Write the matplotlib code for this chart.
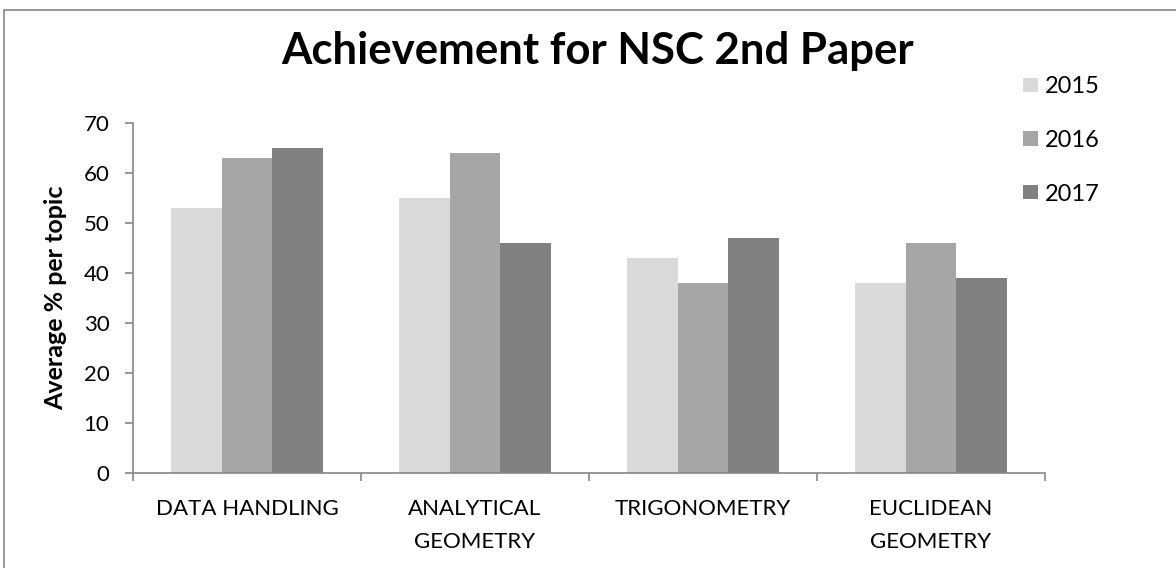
import matplotlib
matplotlib.use("Agg")
import matplotlib.pyplot as plt
from matplotlib.patches import Rectangle
from matplotlib.ticker import FixedLocator, NullFormatter
import numpy as np

categories = ["DATA HANDLING", "ANALYTICAL\nGEOMETRY", "TRIGONOMETRY", "EUCLIDEAN\nGEOMETRY"]
series_names = ["2015", "2016", "2017"]
values_2015 = [53, 55, 43, 38]
values_2016 = [63, 64, 38, 46]
values_2017 = [65, 46, 47, 39]
y_ticks = [0, 10, 20, 30, 40, 50, 60, 70]
colors = ["#D9D9D9", "#A6A6A6", "#808080"]

plt.rcParams['font.family'] = ['Lato', 'DejaVu Sans']

fig = plt.figure(figsize=(11.76, 5.68), dpi=100)
ax = fig.add_axes([133/1176, 1-473/568, (1045-133)/1176, (473-123)/568])

x = np.arange(len(categories))
w = 0.223
all_vals = [values_2015, values_2016, values_2017]
for i, (vals, name, c) in enumerate(zip(all_vals, series_names, colors)):
    ax.bar(x + (i-1)*w, vals, width=w, color=c, label=name, zorder=2)

ax.set_xlim(-0.5, len(categories)-0.5)
ax.set_ylim(0, 70)
ax.set_yticks(y_ticks)
ax.tick_params(axis='y', labelsize=16, colors='#868686', length=6, width=1.2, labelcolor='black', pad=11)

ax.xaxis.set_major_locator(FixedLocator(np.arange(-0.5, len(categories), 1.0)))
ax.xaxis.set_major_formatter(NullFormatter())
ax.xaxis.set_minor_locator(FixedLocator(x))
ax.set_xticklabels(categories, minor=True)
ax.tick_params(axis='x', which='major', length=6, width=1.2, colors='#868686')
ax.tick_params(axis='x', which='minor', length=0, labelsize=16, labelcolor='black', pad=19)
for lab in ax.get_xticklabels(minor=True):
    lab.set_linespacing(1.8)
    lab.set_verticalalignment('top')

for s in ['top', 'right']:
    ax.spines[s].set_visible(False)
for s in ['left', 'bottom']:
    ax.spines[s].set_color('#868686')
    ax.spines[s].set_linewidth(1.2)

ax.set_ylabel("Average % per topic", fontsize=18, fontweight='bold', labelpad=12)

fig.text(598/1176, 1-51/568, "Achievement for NSC 2nd Paper", ha='center', va='center',
         fontsize=31.5, fontweight='bold')

leg = ax.legend(loc='upper left', bbox_to_anchor=(1023/1176, 1-76/568), bbox_transform=fig.transFigure,
                frameon=False, fontsize=17, handlelength=0.64, handleheight=0.55,
                handletextpad=0.3, labelspacing=1.39, borderaxespad=0, borderpad=0)

fig.patches.append(Rectangle((4/1176, -0.1), 1.2, 1-10/568+0.1, transform=fig.transFigure,
                             fill=False, edgecolor='#868686', linewidth=1.2))

fig.savefig("out.png", dpi=100)
